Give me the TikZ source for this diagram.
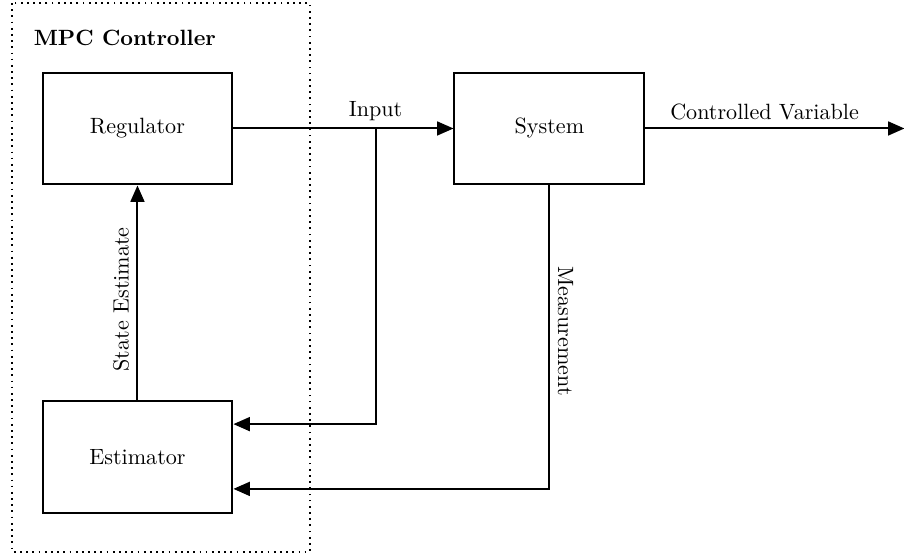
\documentclass[tikz,border=0pt]{standalone}
\usepackage{amsmath}
\usepackage{tikz}
\usetikzlibrary{positioning,arrows.meta,calc}

\begin{document}
\begin{tikzpicture}[
  node distance=3.42cm and 3.5cm,
  block/.style={draw, line width=0.9pt, minimum width=3.02cm, minimum height=1.78cm, align=center},
  arr/.style={-{Triangle[length=2.6mm, width=2.2mm]}, line width=0.9pt},
  lab/.style={font=\normalsize}]
  \useasboundingbox (-2.186,2.043) rectangle (12.19,-6.86);
  \node[block] (reg) at (0,0) {Regulator};
  \node[block, right=of reg] (sys) {System};
  \node[block, below=of reg] (est) {Estimator};
  % controller frame
  \node[anchor=west, font=\bfseries] (mpc) at (-1.773,1.44) {MPC Controller};
  \draw[thick, dotted] (-1.995,1.995) rectangle (2.743,-6.734);
  % signals
  \coordinate (brk) at ($(reg.east)+(2.26,0)$);
  \coordinate (ein) at ($(est.east)+(0,0.53)$);
  \coordinate (emeas) at ($(est.east)+(0,-0.5)$);
  \coordinate (out) at ($(sys.east)+(4.12,0)$);
  \draw[arr] (reg) -- (sys);
  \node[lab, above=0pt of brk] (inlab) {Input};
  \draw[arr] (brk) |- (ein);
  \draw[arr] (sys) -- node[lab, above, pos=0.46] {Controlled Variable} (out);
  \draw[arr] (sys.south) |- node[lab, above, sloped, pos=0.24] {Measurement} (emeas);
  \draw[arr] (est) -- node[lab, above, sloped, pos=0.47] {State Estimate} (reg);
\end{tikzpicture}
\end{document}
